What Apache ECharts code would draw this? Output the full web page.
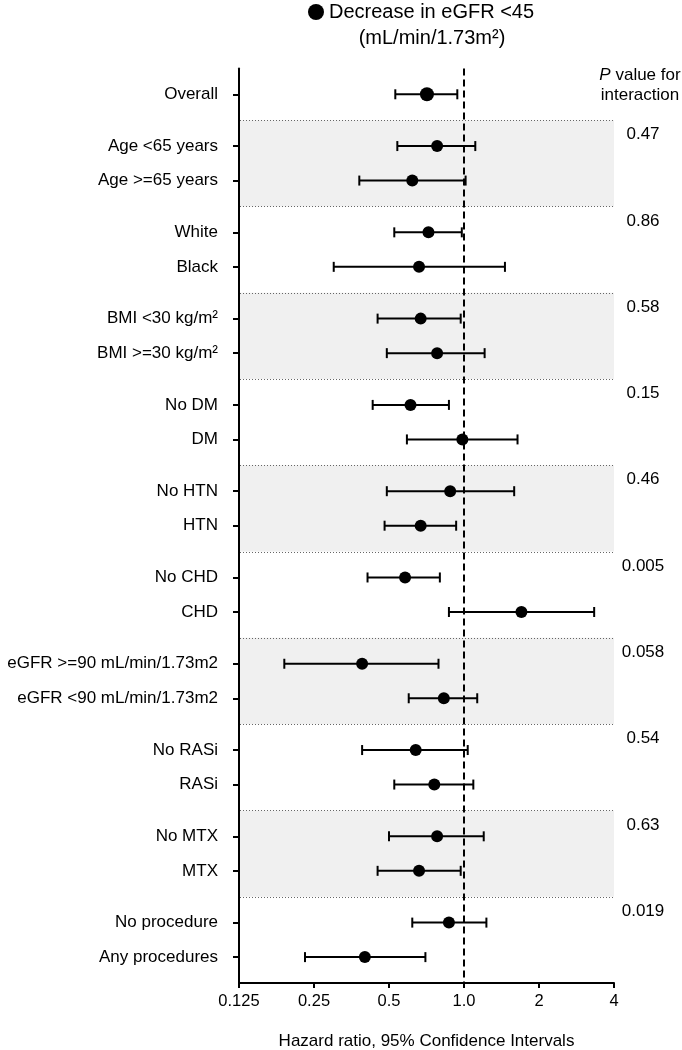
<!DOCTYPE html>
<html><head><meta charset="utf-8">
<script src="https://cdn.jsdelivr.net/npm/echarts@6/dist/echarts.min.js"></script>
<style>html,body{margin:0;padding:0;background:#fff}#c{width:682px;height:1050px}</style>
</head><body><div id="c"></div>
<script>
const labels = ['Overall','Age <65 years','Age >=65 years','White','Black','BMI <30 kg/m²','BMI >=30 kg/m²','No DM','DM','No HTN','HTN','No CHD','CHD','eGFR >=90 mL/min/1.73m2','eGFR <90 mL/min/1.73m2','No RASi','RASi','No MTX','MTX','No procedure','Any procedures'];
const hr     = [0.71,0.78,0.62,0.72,0.66,0.67,0.78,0.61,0.985,0.88,0.67,0.58,1.70,0.39,0.83,0.64,0.76,0.78,0.66,0.87,0.40];
const ciLow  = [0.53,0.54,0.38,0.525,0.30,0.45,0.49,0.43,0.59,0.49,0.48,0.41,0.87,0.19,0.60,0.39,0.525,0.50,0.45,0.62,0.23];
const ciHigh = [0.94,1.11,1.015,0.98,1.46,0.97,1.21,0.87,1.64,1.59,0.93,0.80,3.33,0.79,1.13,1.035,1.09,1.20,0.97,1.23,0.70];
const pInteraction = ['0.47','0.86','0.58','0.15','0.46','0.005','0.058','0.54','0.63','0.019'];
const xTickLabels = ['0.125','0.25','0.5','1.0','2','4'];
const shadedGroups = [1,3,5,7,9];
const seriesName = 'Decrease in eGFR <45';

const FONT = '"Liberation Sans", Arial, Helvetica, sans-serif';
// row layout: overall first, then pairs of rows per subgroup
function pos(r){ return r === 0 ? 0 : 2.5*Math.ceil(r/2) - (r % 2 ? 1 : 0); }
const nGroups = pInteraction.length;
const nSlots = 53;
const cats = Array.from({length:nSlots}, (_, i) => 'slot' + i);
const shown = new Set();
labels.forEach((l, r) => { const i = 2*pos(r) + 1; cats[i] = l; shown.add(i); });

const chart = echarts.init(document.getElementById('c'), null, {renderer:'canvas'});
const option = {
  animation:false,
  textStyle:{fontFamily:FONT},
  legend:{data:[seriesName], left:303, top:-3, icon:'circle', itemWidth:16, itemHeight:16, selectedMode:false,
    itemStyle:{color:'#000'}, textStyle:{fontSize:20, color:'#000', fontFamily:FONT}},
  graphic:[
    {type:'text', x:432, y:38, style:{text:'(mL/min/1.73m²)', font:'20px ' + FONT, fill:'#000', align:'center', verticalAlign:'middle'}},
    {type:'text', x:640, y:85, style:{text:'{it|P} value for\ninteraction', fontSize:17, fontFamily:FONT, lineHeight:20, fill:'#000', align:'center', verticalAlign:'middle',
      rich:{it:{fontStyle:'italic', fontSize:17, fontFamily:FONT, fill:'#000'}}}}
  ],
  grid:{left:239, right:68, top:68.4, bottom:67, containLabel:false, outerBoundsMode:'none'},
  xAxis:{type:'log', logBase:2, min:0.125, max:4,
    axisLine:{show:true, onZero:false, lineStyle:{color:'#000', width:2}},
    axisTick:{show:true, length:5, lineStyle:{color:'#000', width:2}},
    splitLine:{show:false}, minorTick:{show:false},
    axisLabel:{formatter:(v, i) => xTickLabels[i], fontSize:16.5, color:'#000', margin:10, fontFamily:FONT},
    name:'Hazard ratio, 95% Confidence Intervals', nameLocation:'middle', nameGap:50,
    nameTextStyle:{fontSize:17, color:'#000', fontFamily:FONT}},
  yAxis:[
    {type:'category', data:cats, inverse:true, boundaryGap:true,
      axisLine:{show:true, onZero:false, lineStyle:{color:'#000', width:2}},
      axisTick:{show:true, alignWithLabel:true, length:6, interval:(i) => shown.has(i), lineStyle:{color:'#000', width:2}},
      axisLabel:{interval:(i) => shown.has(i), fontSize:17, color:'#000', margin:21, fontFamily:FONT},
      splitLine:{show:false}},
    {type:'value', min:-0.75, max:25.75, inverse:true, show:false}
  ],
  series:[
    {type:'custom', name:'bands', yAxisIndex:1, z:0, silent:true, clip:false,
      encode:{x:0, y:1},
      data:shadedGroups.map(g => [1, 2.5*g - 1.75, 2.5*g + 0.75]),
      renderItem:(params, api) => {
        const a = api.coord([0.125, api.value(1)]);
        const b = api.coord([4, api.value(2)]);
        return {type:'rect', shape:{x:a[0], y:a[1], width:b[0]-a[0], height:b[1]-a[1]}, style:{fill:'#f0f0f0'}};
      }},
    {type:'custom', name:'separators', yAxisIndex:1, z:1, silent:true, clip:false,
      encode:{x:0, y:1},
      data:Array.from({length:nGroups}, (_, k) => [1, 2.5*(k+1) - 1.75]),
      renderItem:(params, api) => {
        const a = api.coord([0.125, api.value(1)]);
        const b = api.coord([4, api.value(1)]);
        return {type:'line', shape:{x1:a[0]+1, y1:Math.round(a[1])+0.5, x2:b[0], y2:Math.round(b[1])+0.5}, style:{stroke:'#666', lineWidth:1, lineDash:[1,2]}};
      }},
    {type:'custom', name:'errorbars', yAxisIndex:1, z:3, silent:true, clip:false,
      encode:{x:[0,1], y:2},
      data:labels.map((l, r) => [ciLow[r], ciHigh[r], pos(r)]),
      renderItem:(params, api) => {
        const y = api.value(2);
        const a = api.coord([api.value(0), y]);
        const b = api.coord([api.value(1), y]);
        const h = 5;
        const st = {stroke:'#000', lineWidth:2};
        return {type:'group', children:[
          {type:'line', shape:{x1:a[0], y1:a[1], x2:b[0], y2:b[1]}, style:st},
          {type:'line', shape:{x1:a[0], y1:a[1]-h, x2:a[0], y2:a[1]+h}, style:st},
          {type:'line', shape:{x1:b[0], y1:b[1]-h, x2:b[0], y2:b[1]+h}, style:st}
        ]};
      },
      markLine:{symbol:'none', silent:true, label:{show:false}, data:[{xAxis:1}],
        lineStyle:{color:'#000', width:2, type:[7,4]}}},
    {type:'scatter', name:seriesName, yAxisIndex:1, z:5, symbol:'circle',
      data:labels.map((l, r) => ({value:[hr[r], pos(r)], symbolSize: r === 0 ? 14 : 12})),
      itemStyle:{color:'#000', opacity:1}},
    {type:'custom', name:'pvalues', yAxisIndex:1, z:5, silent:true, clip:false,
      encode:{x:0, y:1},
      data:pInteraction.map((t, k) => [1, 2.5*(k+1) - 1, k]),
      renderItem:(params, api) => {
        const pt = api.coord([4, api.value(1) - 0.33]);
        return {type:'text', x:pt[0] + 29, y:pt[1], style:{text:pInteraction[api.value(2)], fontSize:17, fontFamily:FONT, fill:'#000', align:'center', verticalAlign:'middle'}};
      }}
  ]
};
chart.setOption(option);
</script></body></html>
